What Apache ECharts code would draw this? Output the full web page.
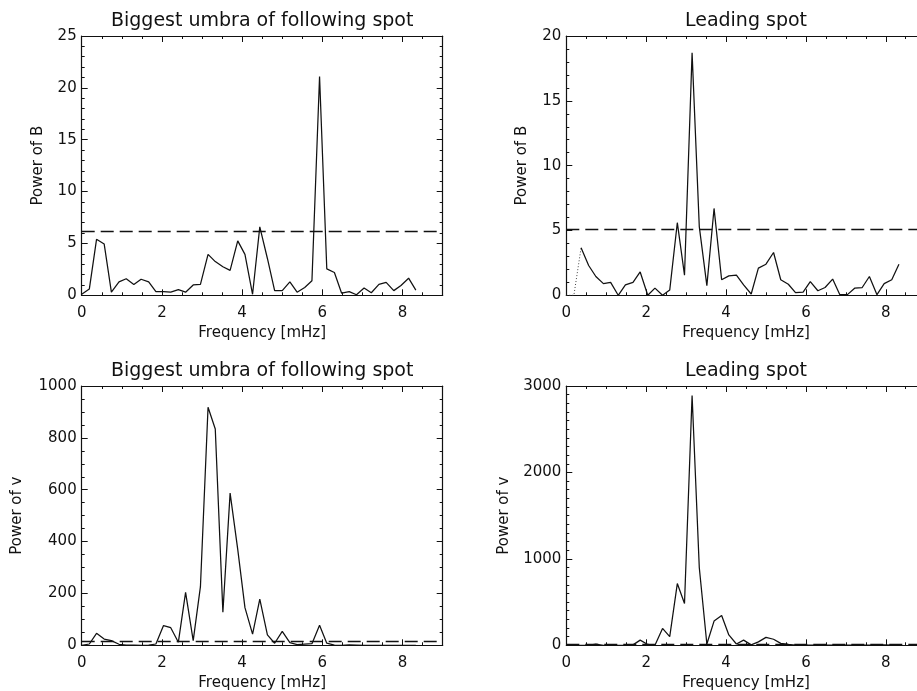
<!DOCTYPE html>
<html>
<head>
<meta charset="utf-8">
<title>Power spectra of B and v</title>
<script src="https://cdn.jsdelivr.net/npm/echarts@6/dist/echarts.min.js"></script>
<style>
  html, body { margin: 0; padding: 0; background: #ffffff; }
  #chart { width: 917px; height: 691px; }
</style>
</head>
<body>
<div id="chart"></div>
<script>
// Frequency grid of the power spectra [mHz]
const freq = [0, 0.19, 0.37, 0.56, 0.74, 0.93, 1.11, 1.30, 1.48, 1.67,
  1.85, 2.04, 2.22, 2.41, 2.59, 2.78, 2.96, 3.15, 3.33, 3.52,
  3.70, 3.89, 4.07, 4.26, 4.44, 4.63, 4.81, 5.00, 5.19, 5.37,
  5.56, 5.74, 5.93, 6.11, 6.30, 6.48, 6.67, 6.85, 7.04, 7.22,
  7.41, 7.59, 7.78, 7.96, 8.15, 8.33];

// Power of B, biggest umbra of the following spot
const powerBFollowing = [0.1, 0.6, 5.4, 4.95, 0.3, 1.3, 1.6, 1.05, 1.55, 1.3,
  0.35, 0.35, 0.3, 0.55, 0.3, 1.0, 1.05, 3.95, 3.25, 2.75,
  2.4, 5.25, 3.95, 0.1, 6.6, 3.55, 0.45, 0.45, 1.3, 0.3,
  0.75, 1.4, 21.1, 2.55, 2.2, 0.2, 0.35, 0.05, 0.7, 0.25,
  1.05, 1.25, 0.45, 0.95, 1.65, 0.5];

// Power of B, leading spot
const powerBLeading = [0, 0, 3.66, 2.3, 1.45, 0.9, 1.0, 0.0, 0.8, 1.0,
  1.8, 0.0, 0.55, 0.0, 0.4, 5.6, 1.55, 18.7, 5.3, 0.75,
  6.7, 1.2, 1.5, 1.55, 0.8, 0.1, 2.1, 2.4, 3.3, 1.2,
  0.85, 0.2, 0.25, 1.05, 0.35, 0.6, 1.25, 0.05, 0.05, 0.55,
  0.6, 1.45, 0.05, 0.9, 1.2, 2.4];

// Power of v, biggest umbra of the following spot
const powerVFollowing = [0, 5, 46, 24, 18, 4, 1, 1, 0, 1,
  5, 76, 68, 12, 204, 18, 226, 918, 834, 128,
  587, 370, 145, 43, 178, 40, 8, 54, 10, 3,
  5, 6, 77, 8, 1, 0, 2, 1, 0, 0,
  0, 0, 0, 0, 0, 0];

// Power of v, leading spot
const powerVLeading = [0, 0, 0, 0, 15, 0, 0, 0, 0, 5,
  60, 10, 0, 195, 100, 714, 484, 2890, 900, 15,
  280, 345, 120, 15, 60, 5, 40, 92, 70, 22,
  10, 3, 2, 2, 2, 2, 2, 2, 2, 2,
  2, 2, 2, 5, 2, 2];

// Significance levels (dashed lines)
const levelBFollowing = 6.2;
const levelBLeading = 5.1;
const levelVFollowing = 17;
const levelVLeading = 15;

// Panel titles and axis titles
const panelTitles = ['Biggest umbra of following spot', 'Leading spot',
  'Biggest umbra of following spot', 'Leading spot'];
const yTitles = ['Power of B', 'Power of B', 'Power of v', 'Power of v'];
const xTitle = 'Frequency [mHz]';

// y-axis ranges: [max, major step, minor divisions]
const yRanges = [[25, 5, 5], [20, 5, 5], [1000, 200, 4], [3000, 1000, 10]];

const FONT = 'DejaVu Sans';
const INK = '#111111';

// Plot boxes (pixels); the right-hand boxes run past the page edge
const boxes = [
  { left: 81.7, top: 36, width: 361, height: 259.3, yGap: 36 },
  { left: 566.3, top: 36, width: 359.4, height: 259.3, yGap: 37 },
  { left: 81.7, top: 386, width: 361, height: 259.3, yGap: 57 },
  { left: 566.3, top: 386, width: 359.4, height: 259.3, yGap: 55 }
];

function pairs(values, from, to) {
  const out = [];
  for (let i = from; i < to; i++) out.push([freq[i], values[i]]);
  return out;
}

const plainNumber = v => String(v);

const grids = [], xAxes = [], yAxes = [], titles = [];

boxes.forEach((b, g) => {
  grids.push({ left: b.left, top: b.top, width: b.width, height: b.height,
    containLabel: false, outerBoundsMode: 'none', show: false });

  const tickStyle = { color: INK, width: 1 };
  const xBase = {
    gridIndex: g, type: 'value', min: 0, max: 9, interval: 2,
    axisLine: { show: true, onZero: false, lineStyle: { color: INK, width: 1.2 } },
    axisTick: { show: true, inside: true, length: 6, lineStyle: tickStyle },
    minorTick: { show: true, splitNumber: 4, length: 3, lineStyle: tickStyle },
    splitLine: { show: false }
  };
  xAxes.push(Object.assign({}, xBase, {
    position: 'bottom',
    name: xTitle, nameLocation: 'middle', nameGap: 30,
    nameTextStyle: { fontFamily: FONT, fontSize: 15, color: INK },
    axisLabel: { show: true, margin: 10, fontFamily: FONT, fontSize: 15,
      color: INK, showMaxLabel: false, formatter: plainNumber }
  }));
  xAxes.push(Object.assign({}, xBase, {
    position: 'top', axisLabel: { show: false }
  }));

  const yr = yRanges[g];
  const yBase = {
    gridIndex: g, type: 'value', min: 0, max: yr[0], interval: yr[1],
    axisLine: { show: true, onZero: false, lineStyle: { color: INK, width: 1.2 } },
    axisTick: { show: true, inside: true, length: 6, lineStyle: tickStyle },
    minorTick: { show: true, splitNumber: yr[2], length: 3, lineStyle: tickStyle },
    splitLine: { show: false }
  };
  yAxes.push(Object.assign({}, yBase, {
    position: 'left',
    name: yTitles[g], nameLocation: 'middle', nameGap: b.yGap, nameRotate: 90,
    nameTextStyle: { fontFamily: FONT, fontSize: 15, color: INK },
    axisLabel: { show: true, margin: 5, fontFamily: FONT, fontSize: 15,
      color: INK, formatter: plainNumber }
  }));
  yAxes.push(Object.assign({}, yBase, {
    position: 'right', axisLabel: { show: false }
  }));

  titles.push({
    text: panelTitles[g],
    left: b.left + b.width / 2,
    top: b.top - 24,
    textAlign: 'center',
    padding: 0,
    textStyle: { fontFamily: FONT, fontSize: 19, fontWeight: 'normal', color: INK }
  });
});

function levelLine(value) {
  return {
    silent: true, symbol: 'none', label: { show: false },
    lineStyle: { color: INK, width: 1.3, type: [13, 6] },
    data: [{ yAxis: value }]
  };
}

function spectrum(g, values, from, to, level, dotted) {
  const s = {
    type: 'line', xAxisIndex: 2 * g, yAxisIndex: 2 * g,
    data: pairs(values, from, to),
    showSymbol: false, animation: false, silent: true,
    lineStyle: dotted
      ? { color: '#444', width: 1, type: [1, 2] }
      : { color: INK, width: 1.25 }
  };
  if (level !== null) s.markLine = levelLine(level);
  return s;
}

const n = freq.length;
const series = [
  spectrum(0, powerBFollowing, 0, n, levelBFollowing, false),
  spectrum(1, powerBLeading, 0, 3, null, true),
  spectrum(1, powerBLeading, 2, n, levelBLeading, false),
  spectrum(2, powerVFollowing, 0, n, levelVFollowing, false),
  spectrum(3, powerVLeading, 0, n, levelVLeading, false)
];

const chart = echarts.init(document.getElementById('chart'), null, { renderer: 'canvas' });
chart.setOption({
  backgroundColor: '#ffffff',
  animation: false,
  title: titles,
  grid: grids,
  xAxis: xAxes,
  yAxis: yAxes,
  series: series
});
</script>
</body>
</html>
